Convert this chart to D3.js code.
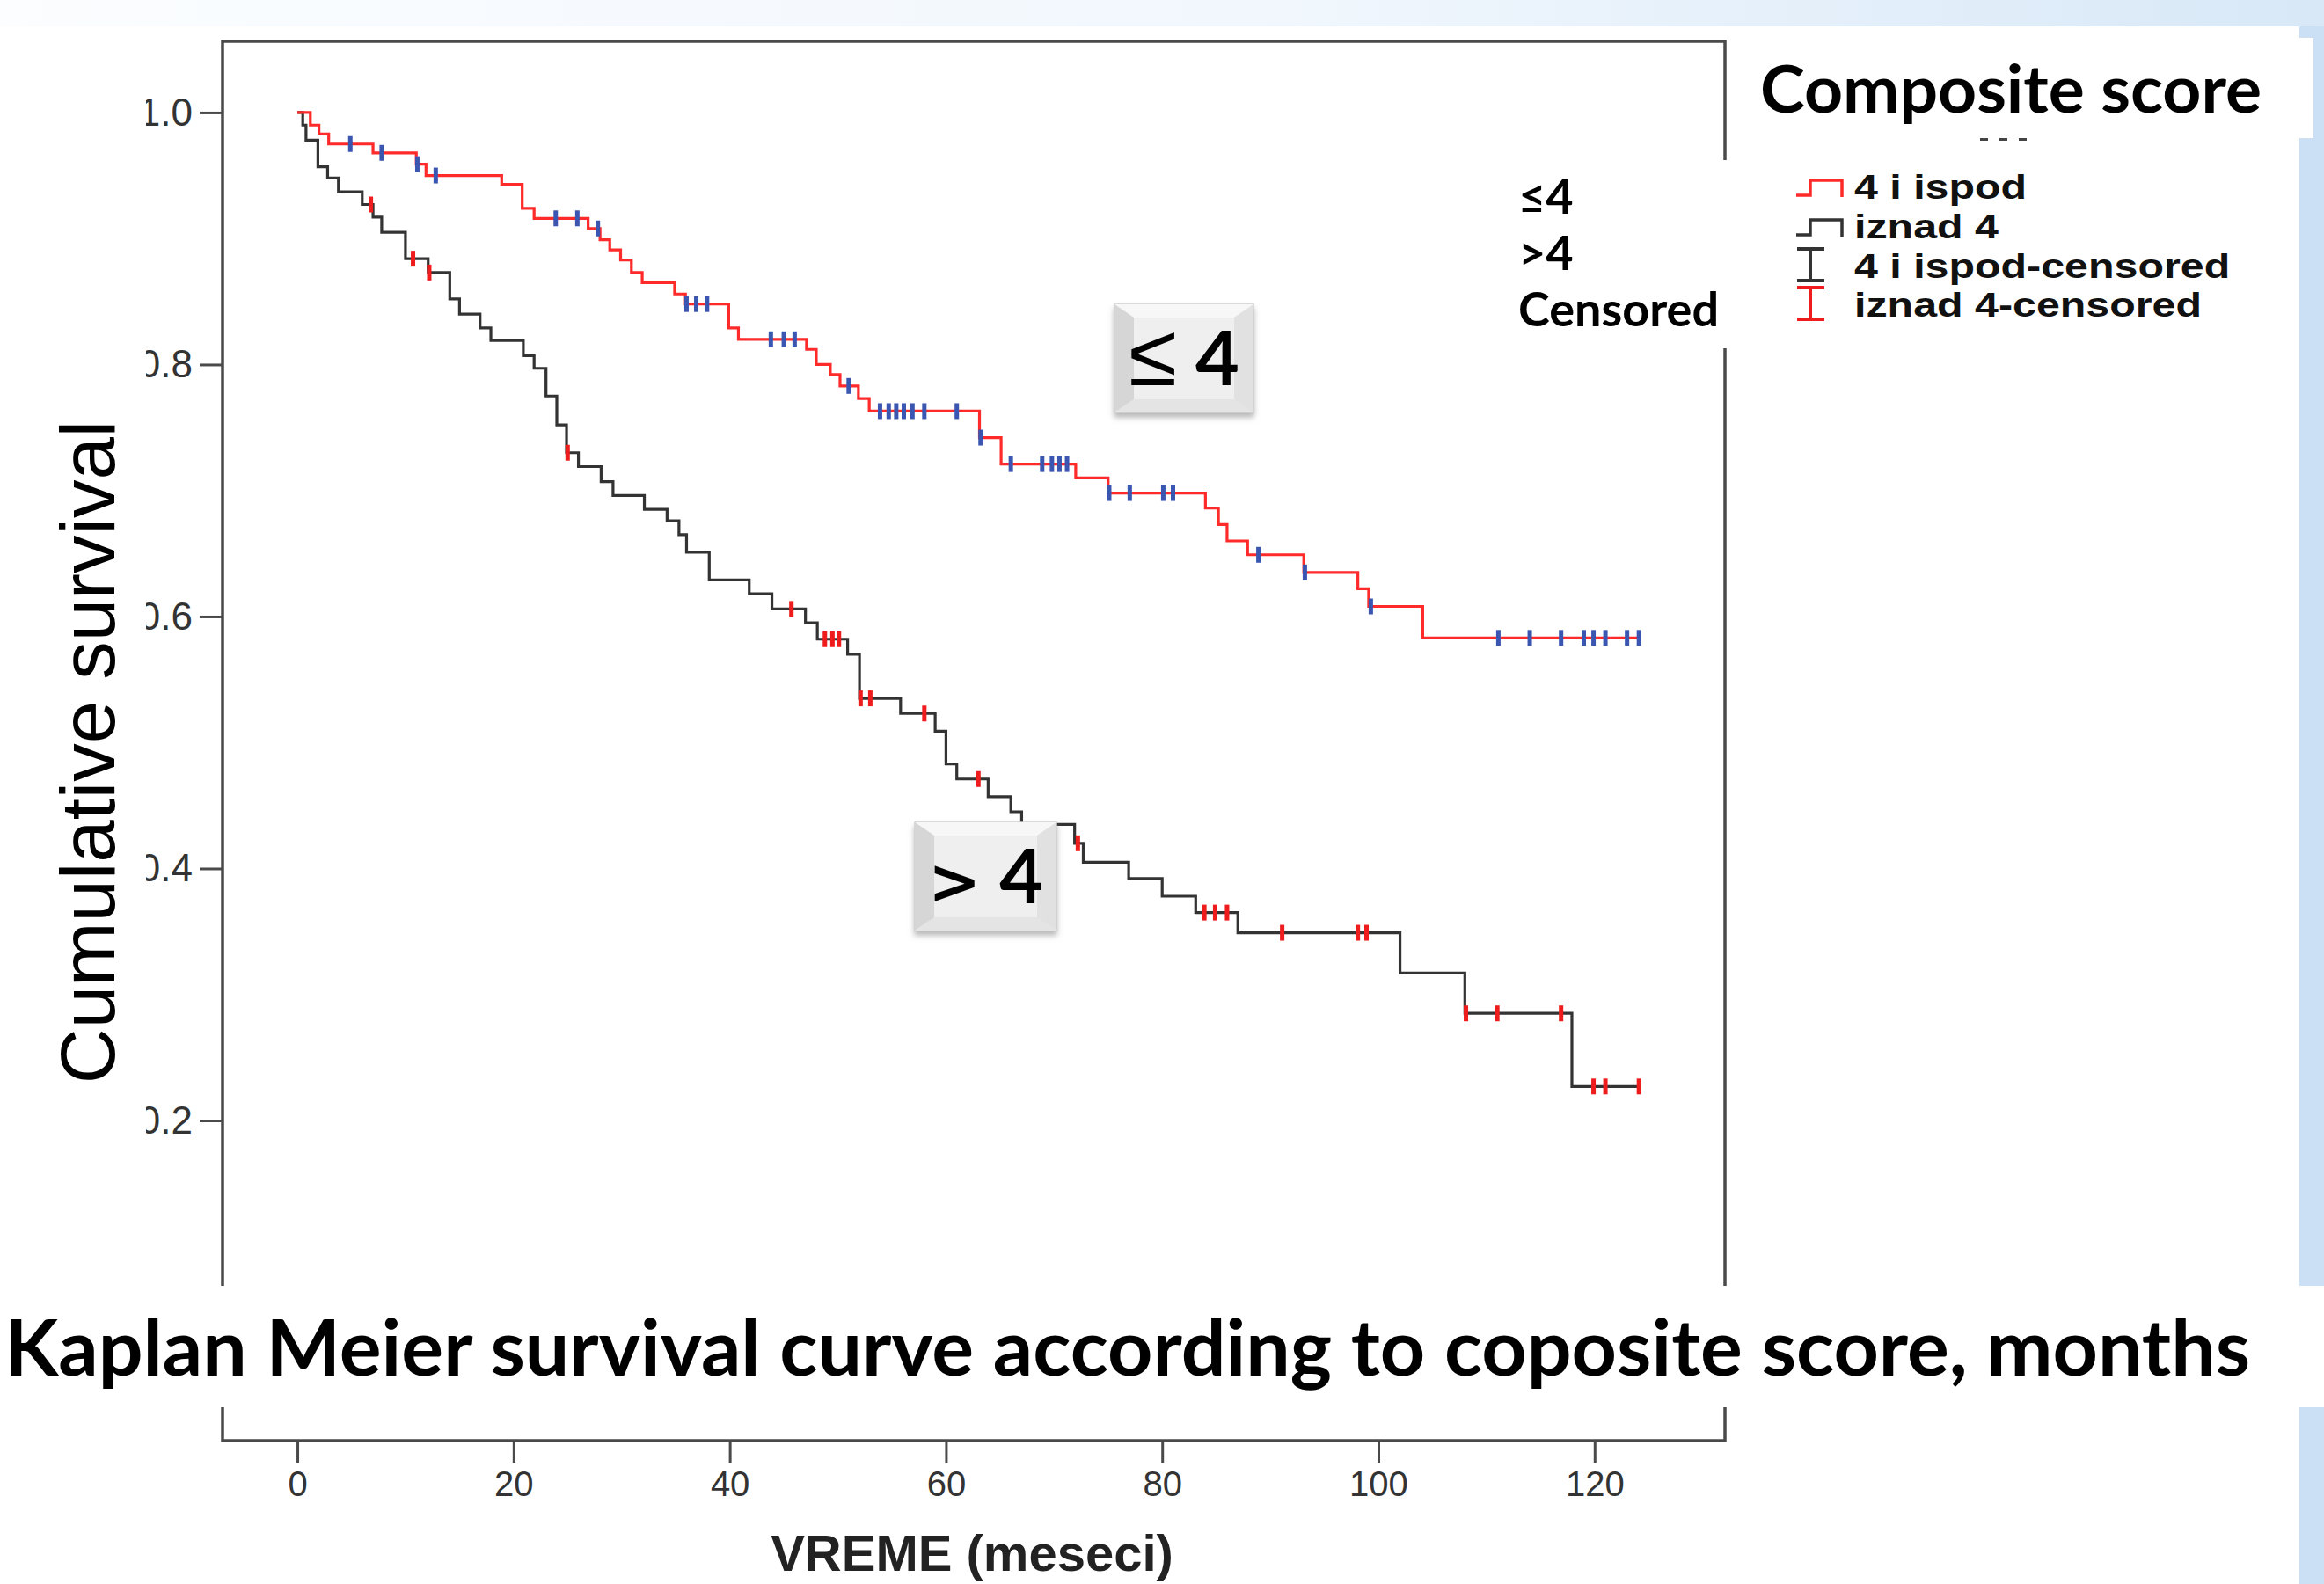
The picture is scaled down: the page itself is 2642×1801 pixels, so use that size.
<!DOCTYPE html>
<html lang="en">
<head>
<meta charset="UTF-8">
<script src="https://d3js.org/d3.v7.min.js"></script>
<title>Kaplan Meier - composite score</title>
<style>
  body { margin: 0; background: #fff; overflow: hidden; }
  svg { display: block; }
</style>
</head>
<body>
<script>
// ---- data ----
// group "4 i ispod" (score <= 4): step times (months) and survival after each step
var lowTimes = [1.2, 2.0, 2.9, 7.0, 11.0, 11.9, 18.9, 20.8, 21.9, 26.9, 28.0, 28.9, 29.9, 30.9, 31.9,
  34.9, 35.9, 39.9, 40.8, 47.1, 48.0, 49.3, 50.2, 51.9, 52.9, 63.1, 65.1, 72.0, 75.0, 84.0, 85.2,
  86.0, 87.9, 93.1, 98.1, 99.1, 104.1];
var lowSurv = [0.990, 0.983, 0.975, 0.968, 0.959, 0.950, 0.943, 0.924, 0.916, 0.908, 0.899, 0.891,
  0.883, 0.873, 0.865, 0.856, 0.848, 0.829, 0.820, 0.812, 0.800, 0.792, 0.783, 0.773, 0.763, 0.742,
  0.721, 0.710, 0.698, 0.686, 0.673, 0.660, 0.649, 0.635, 0.622, 0.608, 0.583];
var lowCensored = [4.9, 7.8, 11.1, 12.8, 23.9, 25.9, 27.8, 36.0, 36.9, 37.9, 43.8, 45.0, 46.0, 51.0,
  53.9, 54.7, 55.4, 56.1, 56.9, 58.0, 61.0, 63.2, 66.0, 68.9, 69.8, 70.5, 71.2, 75.1, 77.0, 80.1,
  81.0, 88.9, 93.2, 99.3, 111.1, 114.0, 116.9, 119.0, 119.9, 121.0, 123.0, 124.1];
var lowEnd = 124.1;

// group "iznad 4" (score > 4)
var highTimes = [0.5, 0.8, 1.9, 2.8, 3.8, 6.0, 7.0, 7.8, 10.0, 12.1, 14.1, 15.0, 16.9, 17.9, 20.9,
  21.9, 23.0, 24.0, 24.9, 26.0, 28.1, 29.2, 32.1, 34.2, 35.3, 36.0, 38.1, 41.8, 43.9, 47.0, 48.1,
  50.9, 52.0, 55.8, 59.0, 60.0, 61.0, 63.9, 66.0, 67.0, 71.9, 72.7, 76.9, 80.0, 83.1, 87.0, 102.0,
  108.0, 117.9];
var highSurv = [0.990, 0.978, 0.957, 0.948, 0.937, 0.927, 0.917, 0.905, 0.884, 0.873, 0.852, 0.840,
  0.829, 0.819, 0.807, 0.797, 0.775, 0.752, 0.730, 0.719, 0.707, 0.696, 0.685, 0.676, 0.665, 0.651,
  0.629, 0.618, 0.606, 0.595, 0.582, 0.570, 0.535, 0.523, 0.509, 0.483, 0.471, 0.457, 0.445, 0.435,
  0.420, 0.405, 0.392, 0.378, 0.365, 0.349, 0.317, 0.285, 0.227];
var highCensored = [6.8, 10.7, 12.2, 25.0, 45.7, 48.8, 49.5, 50.1, 52.1, 53.0, 58.0, 63.0, 72.2,
  83.9, 84.9, 86.0, 91.1, 98.1, 98.9, 108.1, 111.0, 116.9, 119.9, 121.0, 124.1];
var highEnd = 124.1;

var xTicks = [0, 20, 40, 60, 80, 100, 120];
var yTicks = [0.2, 0.4, 0.6, 0.8, 1.0];   // 0.0 sits under the title band in the original
var legendLabels = ["4 i ispod", "iznad 4", "4 i ispod-censored", "iznad 4-censored"];
var noteLabels = ["\u22644", ">4", "Censored"];

var width = 2642, height = 1801;
var frameTop = 47, frameBottom = 1638, frameLeft = 253, frameRight = 1961;

var svg = d3.select("body").append("svg")
  .attr("width", width)
  .attr("height", height);

var defs = svg.append("defs");

// slide background (light blue gradient on top and right)
var grad = defs.append("linearGradient").attr("id", "topGrad");
grad.append("stop").attr("offset", "0%").attr("stop-color", "#fbfdff");
grad.append("stop").attr("offset", "55%").attr("stop-color", "#f1f7fd");
grad.append("stop").attr("offset", "100%").attr("stop-color", "#d8e8f7");

svg.append("rect").attr("width", width).attr("height", height).attr("fill", "#fff");
svg.append("rect").attr("width", width).attr("height", 30).attr("fill", "url(#topGrad)");
svg.append("rect").attr("x", 2614).attr("y", 30).attr("width", 28).attr("height", height - 30)
  .attr("fill", "#cbe0f5");

// scales (frame edges are the plot extent)
var x = d3.scaleLinear().domain([-6.92, 132.06]).range([frameLeft, frameRight]);
var y = d3.scaleLinear().domain([-0.0541, 1.0565]).range([frameBottom, frameTop]);

// frame
svg.append("rect")
  .attr("x", frameLeft).attr("y", frameTop)
  .attr("width", frameRight - frameLeft).attr("height", frameBottom - frameTop)
  .attr("fill", "none").attr("stroke", "#4a4a4a").attr("stroke-width", 3.5);

// axes
var xAxis = svg.append("g")
  .attr("transform", "translate(0," + frameBottom + ")")
  .call(d3.axisBottom(x).tickValues(xTicks).tickSize(25).tickPadding(10));
xAxis.select(".domain").remove();
xAxis.selectAll("line").attr("stroke", "#4a4a4a").attr("stroke-width", 3);
xAxis.selectAll("text").attr("font-family", "Liberation Sans, Arial, sans-serif")
  .attr("font-size", 40).attr("fill", "#333");

defs.append("clipPath").attr("id", "yLabClip")
  .append("rect").attr("x", 166).attr("y", 0).attr("width", 200).attr("height", height);

var yAxis = svg.append("g")
  .attr("transform", "translate(" + frameLeft + ",0)")
  .call(d3.axisLeft(y).tickValues(yTicks).tickFormat(d3.format(".1f")).tickSize(26).tickPadding(8));
yAxis.select(".domain").remove();
yAxis.selectAll("line").attr("stroke", "#4a4a4a").attr("stroke-width", 3);
yAxis.selectAll("text").attr("font-family", "Liberation Sans, Arial, sans-serif")
  .attr("font-size", 44).attr("fill", "#333");
// left part of the labels is cut off in the original
svg.append("g").attr("clip-path", "url(#yLabClip)").node().appendChild(yAxis.node());

// survival curves
function stepPoints(times, surv, end) {
  var pts = [[0, 1]];
  for (var i = 0; i < times.length; i++) pts.push([times[i], surv[i]]);
  pts.push([end, surv[surv.length - 1]]);
  return pts;
}
function survAt(times, surv, t) {
  var v = 1;
  for (var i = 0; i < times.length; i++) if (times[i] <= t) v = surv[i];
  return v;
}

var line = d3.line()
  .x(function (d) { return x(d[0]); })
  .y(function (d) { return y(d[1]); })
  .curve(d3.curveStepAfter);

var groups = [
  { times: highTimes, surv: highSurv, cens: highCensored, end: highEnd, color: "#333333", censColor: "#ee1c1c" },
  { times: lowTimes, surv: lowSurv, cens: lowCensored, end: lowEnd, color: "#ff2a2a", censColor: "#3b56b0" }
];

groups.forEach(function (g) {
  svg.append("path")
    .datum(stepPoints(g.times, g.surv, g.end))
    .attr("d", line)
    .attr("fill", "none")
    .attr("stroke", g.color)
    .attr("stroke-width", 3.2);
});
groups.forEach(function (g) {
  svg.append("g").selectAll("line")
    .data(g.cens)
    .join("line")
    .attr("x1", function (d) { return x(d); })
    .attr("x2", function (d) { return x(d); })
    .attr("y1", function (d) { return y(survAt(g.times, g.surv, d)) - 9; })
    .attr("y2", function (d) { return y(survAt(g.times, g.surv, d)) + 9; })
    .attr("stroke", g.censColor)
    .attr("stroke-width", 5);
});

// beveled labels on the curves
var shadow = defs.append("filter").attr("id", "shadow").attr("x", "-20%").attr("y", "-20%")
  .attr("width", "140%").attr("height", "150%");
shadow.append("feDropShadow").attr("dx", 0).attr("dy", 5).attr("stdDeviation", 3)
  .attr("flood-color", "#888").attr("flood-opacity", 0.6);

function button(bx, by, bw, bh, sign, signSize) {
  var g = svg.append("g").attr("transform", "translate(" + bx + "," + by + ")");
  var b = 22, bt = 15;
  g.append("rect").attr("width", bw).attr("height", bh).attr("fill", "#ebebeb")
    .attr("stroke", "#cfcfcf").attr("stroke-width", 1.5).attr("filter", "url(#shadow)");
  g.append("path").attr("d", "M0,0 L" + bw + ",0 L" + (bw - b) + "," + bt + " L" + b + "," + bt + "Z").attr("fill", "#f7f7f7");
  g.append("path").attr("d", "M0,0 L" + b + "," + bt + " L" + b + "," + (bh - bt) + " L0," + bh + "Z").attr("fill", "#d6d6d6");
  g.append("path").attr("d", "M" + bw + ",0 L" + (bw - b) + "," + bt + " L" + (bw - b) + "," + (bh - bt) + " L" + bw + "," + bh + "Z").attr("fill", "#e1e1e1");
  g.append("path").attr("d", "M0," + bh + " L" + b + "," + (bh - bt) + " L" + (bw - b) + "," + (bh - bt) + " L" + bw + "," + bh + "Z").attr("fill", "#e4e4e4");
  g.append("rect").attr("x", b).attr("y", bt).attr("width", bw - 2 * b).attr("height", bh - 2 * bt).attr("fill", "#efefef");
  var t = g.append("text").attr("x", bw / 2).attr("y", bh / 2 + 30).attr("text-anchor", "middle")
    .attr("font-family", "Lato, 'Open Sans', sans-serif").attr("font-weight", 700)
    .attr("font-size", 86).attr("fill", "#000");
  t.append("tspan").attr("font-family", "DejaVu Sans, sans-serif").attr("font-weight", signSize > 90 ? 300 : 700)
    .attr("font-size", signSize).text(sign);
  t.append("tspan").text(" 4");
}
button(1267, 346, 158, 123, "\u2264", 100);
button(1040, 935, 161, 123, ">", 72);

// note box over the right edge of the frame
svg.append("rect").attr("x", 1712).attr("y", 182).attr("width", 270).attr("height", 214).attr("fill", "#fff");
svg.append("g").selectAll("text")
  .data(noteLabels)
  .join("text")
  .attr("x", 1726)
  .attr("y", function (d, i) { return 243 + i * 64; })
  .attr("font-family", "Lato, 'Open Sans', sans-serif")
  .attr("font-weight", 700)
  .attr("font-size", 54)
  .attr("fill", "#000")
  .text(function (d) { return d; });

// legend
svg.append("rect").attr("x", 1966).attr("y", 43).attr("width", 664).attr("height", 114).attr("fill", "#fff");
svg.append("text").attr("x", 2001).attr("y", 128)
  .attr("font-family", "Lato, 'Open Sans', sans-serif").attr("font-weight", 700)
  .attr("font-size", 74).attr("textLength", 570).attr("lengthAdjust", "spacingAndGlyphs")
  .attr("fill", "#000").text("Composite score");
svg.append("g").selectAll("rect")
  .data([2251, 2273, 2295])
  .join("rect")
  .attr("x", function (d) { return d; }).attr("y", 157).attr("width", 9).attr("height", 3).attr("fill", "#444");

var legendColors = ["#ff2a2a", "#333333", "#333333", "#ee1c1c"];
var legend = svg.append("g");
legendLabels.forEach(function (lab, i) {
  var ly = [226, 271, 316, 360][i];
  if (i < 2) {
    legend.append("path")
      .attr("d", "M2042," + (ly - 4) + " H2058 V" + (ly - 21) + " H2094 V" + (ly - 2))
      .attr("fill", "none").attr("stroke", legendColors[i]).attr("stroke-width", 3.5);
  } else {
    legend.append("path")
      .attr("d", "M2043," + (ly - 33) + " H2074 M2058," + (ly - 33) + " V" + (ly + 3) + " M2043," + (ly + 3) + " H2074")
      .attr("fill", "none").attr("stroke", legendColors[i]).attr("stroke-width", 4);
  }
  legend.append("text")
    .attr("transform", "translate(2108," + ly + ") scale(1.24,1)")
    .attr("font-family", "Liberation Sans, Arial, sans-serif").attr("font-weight", 700)
    .attr("font-size", 39).attr("fill", "#111")
    .text(lab);
});

// axis titles
svg.append("text")
  .attr("transform", "translate(130,855) rotate(-90)")
  .attr("text-anchor", "middle")
  .attr("font-family", "Liberation Sans, Arial, sans-serif")
  .attr("font-size", 87)
  .attr("fill", "#000")
  .text("Cumulative survival");

svg.append("text")
  .attr("x", 1105).attr("y", 1786)
  .attr("text-anchor", "middle")
  .attr("font-family", "Liberation Sans, Arial, sans-serif").attr("font-weight", 700)
  .attr("font-size", 58).attr("fill", "#222")
  .text("VREME (meseci)");

// slide title band across the bottom of the chart
svg.append("rect").attr("x", 0).attr("y", 1462).attr("width", width).attr("height", 138).attr("fill", "#fff");
svg.append("text")
  .attr("x", 5).attr("y", 1564)
  .attr("font-family", "Lato, 'Open Sans', sans-serif").attr("font-weight", 700)
  .attr("font-size", 88).attr("textLength", 2553).attr("lengthAdjust", "spacingAndGlyphs")
  .attr("fill", "#000")
  .text("Kaplan Meier survival curve according to coposite score, months");
</script>
</body>
</html>
